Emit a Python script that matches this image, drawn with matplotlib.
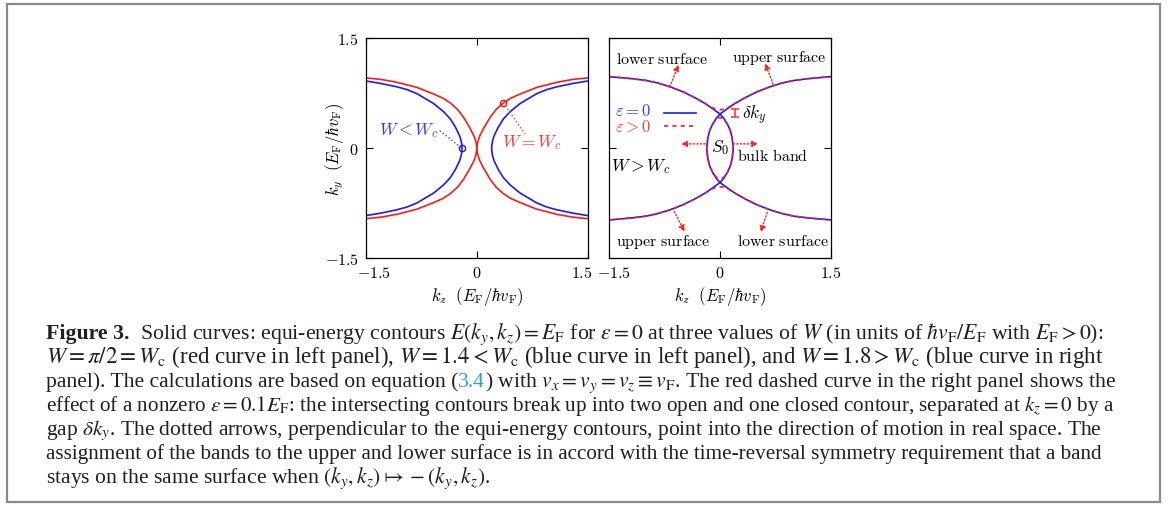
import matplotlib
matplotlib.use("Agg")
import matplotlib.pyplot as plt
import numpy as np
from matplotlib.patches import Rectangle
from matplotlib.transforms import ScaledTranslation

# ---- data (upper halves from the vertex out, ky >= 0;
#      every contour is symmetric in ky) ----
# left panel, W = Wc (red) : right branch, touches the origin
red_kz = [0.0, 0.01, 0.04, 0.09, 0.178, 0.26, 0.358, 0.46, 0.583, 0.808, 1.078, 1.3, 1.5]
red_ky = [0.0, 0.08, 0.17, 0.27, 0.42, 0.53, 0.618, 0.685, 0.74, 0.83, 0.90, 0.94, 0.96]
# left panel, W < Wc (blue) : right branch, vertex at kz = 0.2
blue_kz = [0.2, 0.203, 0.213, 0.229, 0.255, 0.29, 0.358, 0.45, 0.583, 0.808, 0.94, 1.078, 1.3, 1.5]
blue_ky = [0.0, 0.05, 0.104, 0.16, 0.218, 0.29, 0.40, 0.50, 0.61, 0.745, 0.80, 0.838, 0.885, 0.918]
# marked points
red_mark = (0.358, 0.618)
blue_mark = (-0.2, 0.0)

# right panel, W > Wc, eps = 0 (blue) : branch with vertex at kz = +0.18, opening to the left
wide_kz = [0.18, 0.165, 0.14, 0.1, 0.05, 0.0, -0.1, -0.2, -0.34, -0.5, -0.68, -0.84, -1.0, -1.2, -1.5]
wide_ky = [0.0, 0.14, 0.24, 0.33, 0.41, 0.468, 0.54, 0.61, 0.69, 0.77, 0.84, 0.89, 0.925, 0.95, 0.977]
# right panel, eps > 0 (red dashed): open contour above the gap, closed contour S0
open_kz = [-1.5, -1.2, -1.0, -0.84, -0.68, -0.5, -0.34, -0.2, -0.1, -0.04, 0.0,
           0.04, 0.1, 0.2, 0.34, 0.5, 0.68, 0.84, 1.0, 1.2, 1.5]
open_ky = [0.977, 0.95, 0.925, 0.89, 0.84, 0.77, 0.69, 0.61, 0.55, 0.53, 0.525,
           0.53, 0.55, 0.61, 0.69, 0.77, 0.84, 0.89, 0.925, 0.95, 0.977]
lens_kz = [-0.18, -0.165, -0.14, -0.1, -0.05, 0.0, 0.05, 0.1, 0.14, 0.165, 0.18]
lens_ky = [0.0, 0.14, 0.24, 0.33, 0.395, 0.42, 0.395, 0.33, 0.24, 0.14, 0.0]
gap_kz = 0.203
gap_ky = (0.422, 0.535)

ticks = [-1.5, 0, 1.5]
tick_labels = ["$-1.5$", "$0$", "$1.5$"]

caption = [
    [("Figure 3.", "bold", "#231f20"),
     (r"  Solid curves: equi-energy contours $E(k_y, k_z) = E_{\mathrm{F}}$ for $\varepsilon = 0$ at three values of $W$ (in units of $\hbar v_{\mathrm{F}}/E_{\mathrm{F}}$ with $E_{\mathrm{F}} > 0$):", "normal", "#231f20")],
    [(r"$W = \pi/2 = W_{\mathrm{c}}$ (red curve in left panel), $W = 1.4 < W_{\mathrm{c}}$ (blue curve in left panel), and $W = 1.8 > W_{\mathrm{c}}$ (blue curve in right", "normal", "#231f20")],
    [("panel). The calculations are based on equation (", "normal", "#231f20"),
     ("3.4", "normal", "#2a9fd8"),
     (r") with $v_x = v_y = v_z \equiv v_{\mathrm{F}}$. The red dashed curve in the right panel shows the", "normal", "#231f20")],
    [(r"effect of a nonzero $\varepsilon = 0.1E_{\mathrm{F}}$: the intersecting contours break up into two open and one closed contour, separated at $k_z = 0$ by a", "normal", "#231f20")],
    [(r"gap $\delta k_y$. The dotted arrows, perpendicular to the equi-energy contours, point into the direction of motion in real space. The", "normal", "#231f20")],
    [("assignment of the bands to the upper and lower surface is in accord with the time-reversal symmetry requirement that a band", "normal", "#231f20")],
    [(r"stays on the same surface when $(k_y, k_z) \mapsto -(k_y, k_z)$.", "normal", "#231f20")],
]
caption_right = [1103, 1100, 1113, 1114, 1098, 1100, None]

plt.rcParams["mathtext.fontset"] = "cm"
plt.rcParams["font.family"] = ["Liberation Serif", "DejaVu Serif"]

W, H = 1174, 510
fig = plt.figure(figsize=(W / 100, H / 100), dpi=100)

# outer frame
fig.add_artist(Rectangle((7 / W, 1 - 503 / H), 1153 / W, 498 / H, transform=fig.transFigure,
                         fill=False, ec="#8a8a8a", lw=1.6))

axL = fig.add_axes([365.7 / W, 1 - 259.3 / H, 222.3 / W, 220 / H])
axR = fig.add_axes([609.3 / W, 1 - 259.3 / H, 221.4 / W, 220 / H])

RED = "#ff1a1a"
BLUE = "#1a1aff"
DASH = (0, (2.5, 2.5))


def full(kz, ky, flip=1):
    # vertex-first upper half -> whole branch, from the top end through the vertex to the bottom end
    kz = np.asarray(kz) * flip
    ky = np.asarray(ky)
    return np.concatenate([kz[::-1], kz[1:]]), np.concatenate([ky[::-1], -ky[1:]])


for ax in (axL, axR):
    ax.set_xlim(-1.5, 1.5)
    ax.set_ylim(-1.5, 1.5)
    ax.set_xticks(ticks)
    ax.set_xticklabels(tick_labels)
    ax.set_yticks(ticks)
    ax.tick_params(direction="in", top=True, right=True, length=5, width=0.8,
                   labelsize=11.5, pad=5)
    for s in ax.spines.values():
        s.set_linewidth(0.9)
    ax.set_xlabel(r"$k_z\ \ (E_{\mathrm{F}}/\hbar v_{\mathrm{F}})$", fontsize=12, labelpad=2)
axL.set_yticklabels(tick_labels)
axR.set_yticklabels([])
axL.set_ylabel(r"$k_y\ \ (E_{\mathrm{F}}/\hbar v_{\mathrm{F}})$", fontsize=12)
axL.yaxis.set_label_coords(-0.09, 0.5)

# nudge the x tick labels the way the reference sets them
for ax, shifts in ((axL, (8, 0, -6)), (axR, (5, 0, 0))):
    for lab, dx in zip(ax.get_xticklabels(), shifts):
        lab.set_transform(lab.get_transform() + ScaledTranslation(dx / 100, 0, fig.dpi_scale_trans))

# ---- left panel ----
for flip in (1, -1):
    x, y = full(red_kz, red_ky, flip)
    axL.plot(x, y, color=RED, lw=1.2)
    x, y = full(blue_kz, blue_ky, flip)
    axL.plot(x, y, color=BLUE, lw=1.2)
axL.plot(*blue_mark, "o", mfc="none", mec=BLUE, ms=4.5, mew=1)
axL.plot(*red_mark, "o", mfc="none", mec=RED, ms=4.5, mew=1)
axL.plot([-0.5, blue_mark[0]], [0.24, blue_mark[1]], ls=":", color="#3a3aff", lw=1)
axL.plot([red_mark[0], 0.65], [red_mark[1], 0.195], ls=":", color="#ff3a3a", lw=1)
axL.text(-0.92, 0.26, r"$W < W_c$", color="#3a3aff", fontsize=12.5, ha="center", va="center")
axL.text(0.74, 0.095, r"$W = W_c$", color="#ff3a3a", fontsize=12.5, ha="center", va="center")

# ---- right panel ----
for flip in (1, -1):
    x, y = full(wide_kz, wide_ky, flip)
    axR.plot(x, y, color=BLUE, lw=1.2)
ox = np.asarray(open_kz)
oy = np.asarray(open_ky)
axR.plot(ox, oy, color=RED, lw=1.2, ls=DASH)
axR.plot(ox, -oy, color=RED, lw=1.2, ls=DASH)
lx = np.asarray(lens_kz)
ly = np.asarray(lens_ky)
axR.plot(np.concatenate([lx, lx[::-1]]), np.concatenate([ly, -ly[::-1]]),
         color=RED, lw=1.2, ls=DASH)
axR.errorbar(gap_kz, np.mean(gap_ky), yerr=(gap_ky[1] - gap_ky[0]) / 2, color="#ff3a3a",
             capsize=3, lw=1.2, capthick=1.2)
axR.text(0.3, 0.46, r"$\delta k_y$", fontsize=12.5, ha="left", va="center")

# legend key
axR.text(0.026, 0.668, r"$\varepsilon = 0$", color="#3a3aff", fontsize=12, transform=axR.transAxes,
         ha="left", va="center")
axR.text(0.026, 0.598, r"$\varepsilon > 0$", color="#ff3a3a", fontsize=12, transform=axR.transAxes,
         ha="left", va="center")
axR.plot([0.247, 0.393], [0.66, 0.66], color=BLUE, lw=1.2, transform=axR.transAxes)
axR.plot([0.247, 0.393], [0.603, 0.603], color=RED, lw=1.2, ls=DASH, transform=axR.transAxes)

arrows = [((-0.68, 0.84), (-0.56, 1.14)), ((0.72, 0.875), (0.61, 1.16)),
          ((-0.2, 0.06), (-0.53, 0.06)), ((0.18, 0.06), (0.52, 0.06)),
          ((-0.62, -0.86), (-0.48, -1.138)), ((0.64, -0.875), (0.55, -1.146))]
for tail, head in arrows:
    axR.annotate("", xy=head, xytext=tail,
                 arrowprops=dict(arrowstyle="-|>", color="#ff2020", lw=1, ls=(0, (1, 1.5)),
                                 mutation_scale=9, shrinkA=0, shrinkB=0))


def rm(s):
    return r"$\mathrm{" + s.replace(" ", r"\ ") + "}$"


axR.text(-0.79, 1.22, rm("lower surface"), fontsize=11.5, ha="center", va="center")
axR.text(0.81, 1.25, rm("upper surface"), fontsize=11.5, ha="center", va="center")
axR.text(-0.77, -1.27, rm("upper surface"), fontsize=11.5, ha="center", va="center")
axR.text(0.85, -1.27, rm("lower surface"), fontsize=11.5, ha="center", va="center")
axR.text(0.72, -0.1, rm("bulk band"), fontsize=11.5, ha="center", va="center")
axR.text(0.0, 0.02, r"$S_0$", fontsize=12.5, ha="center", va="center")
axR.text(-1.07, -0.23, r"$W > W_c$", fontsize=12.5, ha="center", va="center")

# ---- caption ----
renderer = fig.canvas.get_renderer()
x0 = 46
base_size = 13
fitted = []
for i, pieces in enumerate(caption):
    yb = 339 + 24 * i
    texts = [fig.text(0, 0, s, fontsize=base_size, fontweight=w, color=c, ha="left",
                      va="baseline", math_fontfamily="stix") for s, w, c in pieces]

    def layout(size):
        x = x0
        for t in texts:
            t.set_fontsize(size)
            t.set_position((x / W, 1 - yb / H))
            x += t.get_window_extent(renderer).width
        return x - x0

    width = layout(base_size)
    if caption_right[i] is not None:
        size = base_size * (caption_right[i] - x0) / width
        fitted.append(size)
    else:
        size = np.mean(fitted)
    layout(size)

fig.savefig("out.png", dpi=100)
